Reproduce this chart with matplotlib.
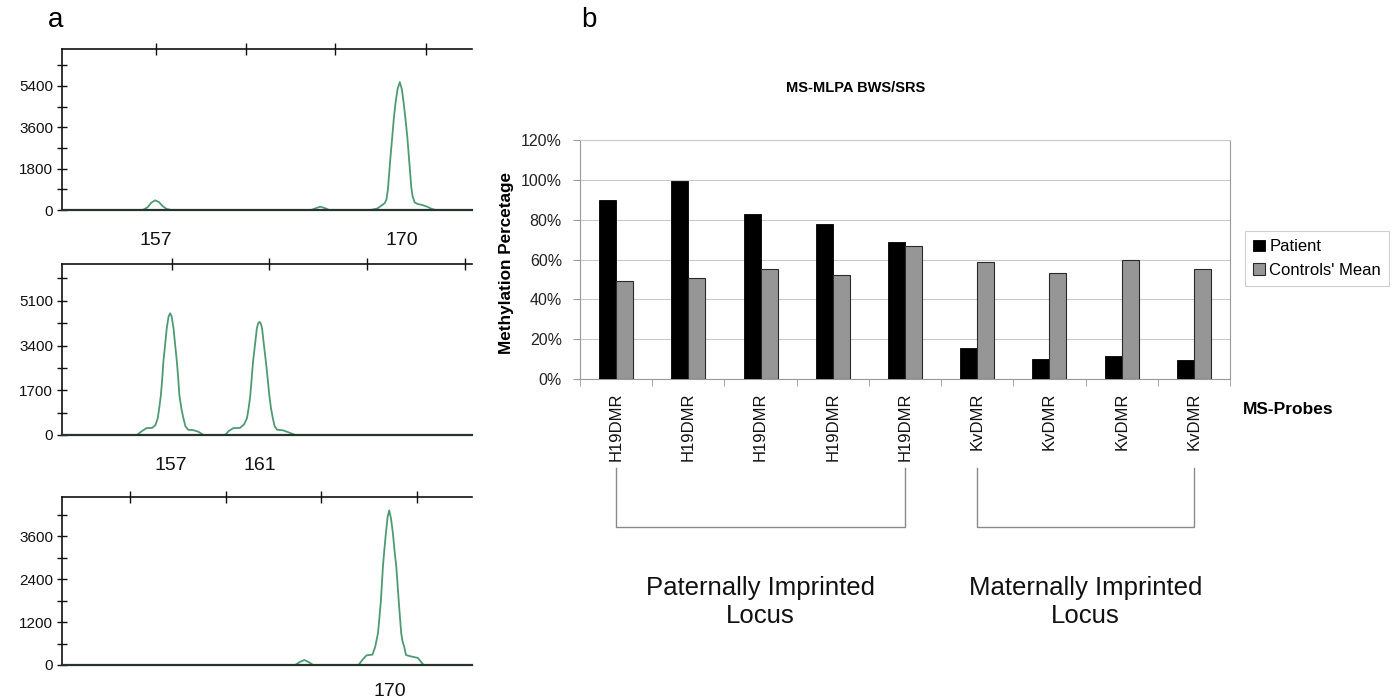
import numpy as np
import matplotlib
matplotlib.use("Agg")
import matplotlib.pyplot as plt
from matplotlib.ticker import PercentFormatter
from matplotlib.transforms import blended_transform_factory

plt.rcParams['font.family'] = ['Liberation Sans', 'DejaVu Sans']

# ---------------- Panel a: electropherogram traces (size in bp, height in RFU) ----------------
top_bp = [152.0, 156.30, 156.55, 156.75, 156.95, 157.15, 157.35, 157.55, 157.80,
          165.25, 165.50, 165.74, 165.98, 166.20,
          168.40, 168.75, 169.00, 169.15, 169.25, 169.33, 169.41, 169.48, 169.56, 169.64,
          169.73, 169.84, 169.96, 170.07, 170.17, 170.27, 170.36, 170.43, 170.50, 170.57,
          170.64, 170.75, 170.91, 171.15, 171.40, 171.65, 171.86, 173.8]
top_rfu = [0, 0, 120, 320, 420, 350, 170, 50, 0,
           0, 80, 145, 80, 0,
           0, 60, 200, 290, 450, 900, 1735, 2450, 3180, 3950,
           4630, 5250, 5560, 5250, 4630, 3900, 3180, 2450, 1735, 1000,
           600, 330, 260, 220, 150, 50, 0, 0]

mid_bp = [152.2, 155.52, 155.75, 155.95, 156.20, 156.35, 156.45, 156.52, 156.59, 156.65,
          156.70, 156.78, 156.85, 156.93, 157.00, 157.07, 157.15, 157.22, 157.30, 157.36,
          157.41, 157.50, 157.59, 157.68, 157.80, 158.05, 158.26, 158.48,
          159.44, 159.60, 159.80, 160.10, 160.28, 160.41, 160.49, 160.56, 160.62, 160.68,
          160.77, 160.85, 160.91, 160.97, 161.02, 161.08, 161.16, 161.25, 161.33, 161.40,
          161.48, 161.56, 161.64, 161.75, 162.00, 162.20, 162.56, 170.4]
mid_rfu = [0, 0, 150, 260, 270, 380, 635, 1050, 1521, 2150,
           2788, 3450, 4057, 4500, 4628, 4500, 4057, 3450, 2788, 2150,
           1521, 1000, 635, 330, 200, 180, 120, 0,
           0, 150, 260, 270, 400, 635, 1050, 1521, 2150, 2788,
           3450, 4057, 4250, 4300, 4250, 4057, 3450, 2788, 2150, 1521,
           1000, 635, 330, 200, 180, 120, 0, 0]

bot_bp = [153.4, 165.23, 165.45, 165.69, 165.92, 166.14,
          168.44, 168.65, 168.85, 169.15, 169.29, 169.36, 169.43, 169.50, 169.58, 169.63,
          169.68, 169.75, 169.83, 169.92, 170.00, 170.09, 170.19, 170.27, 170.36, 170.42,
          170.48, 170.55, 170.61, 170.68, 170.76, 170.85, 171.10, 171.45, 171.74, 174.2]
bot_rfu = [0, 0, 80, 140, 80, 0,
           0, 150, 270, 290, 511, 700, 884, 1300, 1814, 2280,
           2743, 3200, 3674, 4150, 4325, 4100, 3674, 3200, 2743, 2280,
           1814, 1300, 884, 650, 511, 280, 240, 200, 0, 0]

top_yticks = [0, 1800, 3600, 5400]
mid_yticks = [0, 1700, 3400, 5100]
bot_yticks = [0, 1200, 2400, 3600]
top_size_ticks = [156.98, 161.78, 166.54, 171.37]
mid_size_ticks = [157.08, 161.41, 165.74, 170.08]
bot_size_ticks = [156.85, 161.71, 166.55, 171.41]
top_peak_labels = [("157", 157.0), ("170", 170.05)]
mid_peak_labels = [("157", 157.04), ("161", 160.96)]
bot_peak_labels = [("170", 170.05)]

# ---------------- Panel b: MS-MLPA methylation ----------------
probes = ["H19DMR", "H19DMR", "H19DMR", "H19DMR", "H19DMR", "KvDMR", "KvDMR", "KvDMR", "KvDMR"]
patient = [0.900, 0.992, 0.826, 0.779, 0.686, 0.154, 0.102, 0.114, 0.095]
controls = [0.492, 0.507, 0.552, 0.520, 0.666, 0.587, 0.532, 0.599, 0.552]
series_names = ["Patient", "Controls' Mean"]
groups = [("Paternally Imprinted\nLocus", 0, 4, 2.0), ("Maternally Imprinted\nLocus", 5, 8, 6.5)]

W, H = 1394, 700
fig = plt.figure(figsize=(W / 100, H / 100), dpi=100)


def fx(px):
    return px / W


def fy(py):
    return 1 - py / H


trace_color = '#4e9a72'


def trace_axes(top_px, zero_px, xlim, ytop, yticks, size_ticks, bp, rfu, peak_labels, label_off):
    ax = fig.add_axes([fx(62), fy(zero_px), fx(472) - fx(62), (zero_px - top_px) / H])
    ax.plot(bp, rfu, color=trace_color, lw=1.3, clip_on=False, zorder=3)
    ax.plot(xlim, [0, 0], color='#26352c', lw=1.6, clip_on=False, zorder=4)
    ax.set_xlim(xlim)
    ax.set_ylim(0, ytop)
    for s in ['right', 'bottom']:
        ax.spines[s].set_visible(False)
    for s in ['top', 'left']:
        ax.spines[s].set_color('#111')
        ax.spines[s].set_linewidth(1.2)
    ax.set_yticks(yticks)
    ax.set_yticklabels([str(v) for v in yticks])
    step = yticks[1] - yticks[0]
    ax.set_yticks([v + step / 2 for v in yticks], minor=True)
    ax.tick_params(axis='y', which='both', direction='inout', length=7, width=1.0,
                   labelsize=11, pad=3, colors='#111')
    ax.set_xticks(size_ticks)
    ax.tick_params(axis='x', which='both', bottom=False, top=True, labelbottom=False,
                   direction='inout', length=8, width=1.0, colors='#111')
    ax.tick_params(axis='x', which='minor', top=False)
    for lab, x in peak_labels:
        ax.annotate(lab, xy=(x, 0), xycoords=('data', 'axes fraction'),
                    xytext=(0, -label_off), textcoords='offset pixels',
                    ha='center', va='center', fontsize=14, color='#111')
    return ax


trace_axes(49, 210, (152.0, 173.8), 7000, top_yticks, top_size_ticks, top_bp, top_rfu, top_peak_labels, 30)
trace_axes(264, 435, (152.2, 170.4), 6500, mid_yticks, mid_size_ticks, mid_bp, mid_rfu, mid_peak_labels, 30)
trace_axes(497, 665, (153.4, 174.2), 4700, bot_yticks, bot_size_ticks, bot_bp, bot_rfu, bot_peak_labels, 26)

fig.text(fx(56), fy(20), "a", fontsize=20, ha='center', va='center')
fig.text(fx(589), fy(20), "b", fontsize=20, ha='center', va='center')

# ---------------- Panel b axes ----------------
axb = fig.add_axes([fx(580), fy(379), fx(1230) - fx(580), (379 - 140) / H])
x = np.arange(len(probes))
w = 0.235
b1 = axb.bar(x - w / 2, patient, w, color='black', edgecolor='black', lw=0.6, zorder=3, label=series_names[0])
b2 = axb.bar(x + w / 2, controls, w, color='#969696', edgecolor='#2a2a2a', lw=0.8, zorder=3, label=series_names[1])
axb.set_xlim(-0.5, len(probes) - 0.5)
axb.set_ylim(0, 1.2)
axb.set_yticks(np.arange(0, 1.21, 0.2))
axb.yaxis.set_major_formatter(PercentFormatter(1.0, decimals=0))
axb.grid(axis='y', color='#c9c9c9', lw=0.8)
axb.set_axisbelow(True)
for s in axb.spines.values():
    s.set_color('#9a9a9a')
    s.set_linewidth(0.8)
axb.spines['top'].set_color('#c9c9c9')
axb.set_xticks(x)
axb.set_xticklabels(probes, rotation=90, fontsize=12, color='#111')
axb.set_xticks(np.arange(-0.5, len(probes), 1.0), minor=True)
axb.tick_params(axis='x', which='major', length=0, pad=10)
axb.tick_params(axis='x', which='minor', length=5, direction='out', color='#9a9a9a')
axb.tick_params(axis='y', length=5, color='#9a9a9a', labelsize=11.5, labelcolor='#222', pad=8)

fig.text(fx(856), fy(88), "MS-MLPA BWS/SRS", fontsize=10.5, fontweight='bold', ha='center', va='center')
fig.text(fx(507), fy(263), "Methylation Percetage", fontsize=12.3, fontweight='bold',
         rotation=90, ha='center', va='center')
fig.text(fx(1243), fy(410), "MS-Probes", fontsize=12.5, fontweight='bold', ha='left', va='center')

leg = fig.legend(handles=[b1, b2], loc='upper left', bbox_to_anchor=(fx(1245), fy(231)),
                 fontsize=12, frameon=True, fancybox=False, edgecolor='#c4c4c4',
                 handlelength=0.7, handleheight=0.7, handletextpad=0.25, borderpad=0.5,
                 labelspacing=0.5, borderaxespad=0)
leg.get_frame().set_linewidth(0.8)

# brackets and group labels
tr = blended_transform_factory(axb.transData, fig.transFigure)
for text, i0, i1, xc in groups:
    axb.plot([i0, i0, i1, i1], [fy(468), fy(527), fy(527), fy(468)], color='#8a8a8a', lw=1.0,
             transform=tr, clip_on=False)
    axb.text(xc, fy(602), text, transform=tr, ha='center', va='center',
             fontsize=18.5, color='#111', linespacing=1.2, multialignment='center')

fig.savefig("out.png", dpi=100)
